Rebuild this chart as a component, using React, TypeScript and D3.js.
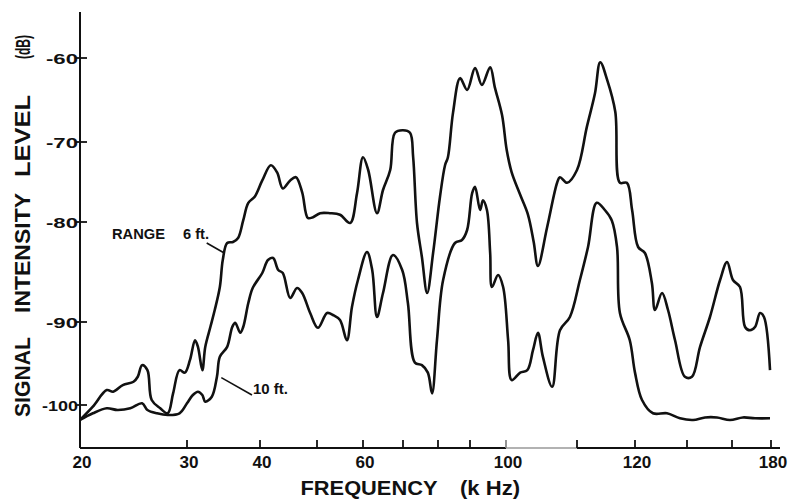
import { useEffect, useRef } from "react";
import * as d3 from "d3";

// frequency axis (kHz) and level axis (dB)
const xTickValues = [20, 30, 40, 50, 60, 70, 80, 90, 100, 110, 120, 140, 160, 180];
const xTickLabels = ["20", "30", "40", "", "60", "", "", "", "100", "", "120", "", "", "180"];
const yTickValues = [-100, -90, -80, -70, -60];
const yTickLabels = ["-100", "-90", "-80", "-70", "-60"];

// RANGE 6 ft.
const range6Freq = [
  20.0, 21.2, 22.5, 23.1, 24.0, 25.0, 25.4, 25.8, 26.3, 26.7, 27.5, 28.2, 28.7, 29.3, 29.8,
  30.4, 31.1, 31.5, 32.1, 32.5, 33.2, 33.8, 34.5, 34.9, 35.5, 36.3, 37.0, 37.7, 38.4, 39.3,
  40.4, 41.9, 43.0, 44.0, 45.3, 46.3, 47.4, 48.4, 49.3, 50.7, 52.8, 55.0, 57.2, 58.7, 60.0,
  61.3, 63.5, 65.0, 66.8, 68.0, 70.0, 72.0, 72.9, 74.0, 75.4, 76.9, 78.6, 80.6, 82.2, 83.1,
  84.7, 86.9, 89.1, 91.4, 93.3, 95.6, 96.9, 98.9, 100.1, 100.8, 102.0, 103.1, 103.9, 104.5,
  105.8, 107.2, 107.6, 108.6, 110.0, 111.7, 113.1, 114.0, 115.2, 116.6, 117.4, 118.6, 119.5,
  121.2, 123.8, 126.5, 127.7, 130.4, 132.7, 135.4, 139.2, 142.2, 145.8, 150.2, 154.7, 157.8,
  160.5, 164.1, 166.7, 169.2, 171.8, 174.4, 176.4, 179.5,
];
const range6Level = [
  -101.8, -100.2, -98.2, -98.4, -97.6, -97.2, -96.6, -95.2, -95.8, -99.4, -100.4, -101.0, -98.6, -95.8, -96.1,
  -94.6, -92.2, -93.0, -95.8, -93.0, -90.6, -88.8, -86.5, -83.8, -82.1, -82.0, -81.6, -79.8, -77.6, -76.8,
  -74.8, -72.9, -73.8, -75.8, -74.8, -74.4, -76.3, -79.5, -79.4, -78.9, -78.9, -79.1, -80.1, -76.4, -71.9,
  -73.5, -78.9, -76.0, -73.5, -68.9, -68.6, -68.9, -71.9, -80.1, -83.5, -87.1, -83.1, -76.9, -72.9, -71.9,
  -66.5, -62.4, -63.8, -61.2, -63.2, -61.1, -63.5, -66.8, -71.0, -73.8, -76.6, -79.1, -82.0, -84.4,
  -80.5, -75.1, -74.4, -75.1, -73.5, -68.2, -64.2, -60.5, -62.6, -66.4, -75.1, -75.1, -78.5,
  -82.5, -83.1, -86.1, -88.8, -87.1, -88.8, -92.2, -96.6, -96.6, -93.0, -89.5, -85.8, -84.0,
  -85.8, -86.5, -90.6, -91.0, -90.6, -89.1, -89.5, -95.8,
];

// 10 ft.
const range10Freq = [
  20.0, 21.2, 22.5, 23.5, 24.7, 25.8, 26.3, 27.2, 28.2, 29.3, 30.0, 30.8, 31.5, 32.1, 32.5,
  33.4, 34.1, 34.5, 35.5, 36.2, 36.6, 37.3, 37.7, 38.4, 39.0, 40.4, 41.4, 42.3, 43.2, 44.0,
  45.3, 46.5, 47.4, 48.8, 50.2, 52.2, 53.5, 55.0, 56.5, 57.6, 58.9, 61.0, 62.3, 63.5, 65.0,
  67.5, 69.8, 71.4, 73.4, 75.4, 77.1, 78.3, 79.7, 81.6, 85.3, 87.5, 89.1, 90.6, 91.4, 92.8,
  93.6, 94.7, 95.6, 96.1, 97.8, 99.2, 100.3, 100.8, 102.0, 103.0, 103.8, 104.5, 105.2, 106.5,
  107.6, 109.0, 110.5, 111.9, 113.4, 114.8, 116.0, 116.9, 117.4, 119.1, 120.0, 122.7, 126.9,
  132.3, 137.3, 142.7, 148.0, 153.3, 159.1, 165.6, 171.8, 179.5,
];
const range10Level = [
  -101.8, -101.0, -100.4, -100.6, -100.4, -99.8, -100.6, -101.0, -101.2, -101.0, -99.8, -98.8, -98.4, -98.8, -99.6,
  -99.0, -96.6, -94.2, -93.0, -90.6, -90.1, -91.3, -90.6, -88.1, -86.6, -85.1, -83.8, -83.6, -84.8, -85.1,
  -87.6, -86.6, -87.1, -89.1, -90.7, -89.1, -89.3, -89.8, -92.2, -88.5, -85.8, -83.0, -84.8, -89.5, -87.1,
  -83.3, -84.8, -88.1, -94.9, -95.2, -96.1, -98.6, -92.2, -85.8, -82.1, -81.8, -80.8, -76.4, -75.6, -78.5,
  -77.3, -78.5, -83.1, -86.5, -85.3, -86.5, -92.2, -97.0, -96.1, -95.8, -93.4, -91.3, -94.2, -97.8,
  -91.0, -89.5, -85.8, -82.5, -77.6, -78.5, -79.8, -82.5, -89.1, -92.2, -96.1, -99.4, -101.0,
  -101.0, -101.6, -101.8, -101.5, -101.5, -101.8, -101.5, -101.6, -101.6,
];

const width = 793;
const height = 502;
// hand drawn axes: tick marks are not evenly spaced
const xTickPx = [80, 187, 260, 317, 363, 403, 438, 470, 506, 577, 635, 687, 732, 771];
const yTickPx = [405, 322, 222, 142, 58];
const font = "'Liberation Sans', Arial, sans-serif";

const App = () => {
  const ref = useRef<SVGSVGElement>(null);

  useEffect(() => {
    const svg = d3.select(ref.current);
    svg.selectAll("*").remove();

    const x = d3.scaleLinear().domain(xTickValues).range(xTickPx);
    const y = d3.scaleLinear().domain(yTickValues).range(yTickPx);
    const axisY = y(-101.8) + 28;
    const axisX = x(20);

    svg.append("rect").attr("width", width).attr("height", height).attr("fill", "#fff");

    // axes
    svg.append("line")
      .attr("x1", axisX).attr("x2", axisX)
      .attr("y1", 12).attr("y2", axisY)
      .attr("stroke", "#111").attr("stroke-width", 2);
    svg.append("line")
      .attr("x1", axisX).attr("x2", x(100))
      .attr("y1", axisY).attr("y2", axisY)
      .attr("stroke", "#111").attr("stroke-width", 2);
    svg.append("line")
      .attr("x1", x(100)).attr("x2", x(110))
      .attr("y1", axisY).attr("y2", axisY)
      .attr("stroke", "#999").attr("stroke-width", 1.5);
    svg.append("line")
      .attr("x1", x(110)).attr("x2", x(180) + 9)
      .attr("y1", axisY).attr("y2", axisY)
      .attr("stroke", "#111").attr("stroke-width", 2);

    xTickValues.slice(1).forEach((v) => {
      svg.append("line")
        .attr("x1", x(v)).attr("x2", x(v))
        .attr("y1", axisY - 8).attr("y2", axisY)
        .attr("stroke", v === 100 ? "#888" : "#111")
        .attr("stroke-width", 1.8);
    });
    xTickValues.forEach((v, i) => {
      const t = xTickLabels[i];
      if (!t) return;
      svg.append("text")
        .attr("x", x(v) + 2).attr("y", axisY + 20)
        .attr("text-anchor", "middle")
        .attr("font-family", font).attr("font-weight", 700).attr("font-size", 16)
        .attr("textLength", t.length * 9.5)
        .attr("lengthAdjust", "spacingAndGlyphs")
        .attr("fill", "#111")
        .text(t);
    });

    yTickValues.forEach((v, i) => {
      svg.append("line")
        .attr("x1", axisX - 5).attr("x2", axisX + 7)
        .attr("y1", y(v)).attr("y2", y(v))
        .attr("stroke", "#111").attr("stroke-width", 1.8);
      const t = yTickLabels[i];
      svg.append("text")
        .attr("x", axisX - 2).attr("y", y(v) + 6)
        .attr("text-anchor", "end")
        .attr("font-family", font).attr("font-weight", 700).attr("font-size", 15)
        .attr("textLength", t.length === 4 ? 36 : 32)
        .attr("lengthAdjust", "spacingAndGlyphs")
        .attr("fill", "#111")
        .text(t);
    });

    // axis titles
    const title = (t: string, tx: number, ty: number, len: number, size: number, rot = false) => {
      svg.append("text")
        .attr("transform", `translate(${tx},${ty})` + (rot ? " rotate(-90)" : ""))
        .attr("text-anchor", "middle")
        .attr("font-family", font).attr("font-weight", 700).attr("font-size", size)
        .attr("textLength", len)
        .attr("lengthAdjust", "spacingAndGlyphs")
        .attr("fill", "#111")
        .text(t);
    };
    title("FREQUENCY", 369, 495, 137, 21);
    title("(k Hz)", 490, 495, 60, 20);
    title("SIGNAL", 30, 377, 80, 22, true);
    title("INTENSITY", 30, 253, 120, 22, true);
    title("LEVEL", 30, 136, 82, 22, true);
    title("(dB)", 30, 47, 24, 20, true);

    // curves
    const line = d3.line<[number, number]>()
      .x((d) => x(d[0]))
      .y((d) => y(d[1]))
      .curve(d3.curveCatmullRom.alpha(0.5));

    const series = [
      d3.zip(range6Freq, range6Level) as [number, number][],
      d3.zip(range10Freq, range10Level) as [number, number][],
    ];
    series.forEach((s) => {
      svg.append("path")
        .attr("d", line(s))
        .attr("fill", "none")
        .attr("stroke", "#111")
        .attr("stroke-width", 2.6)
        .attr("stroke-linejoin", "round");
    });

    // labels with leaders
    const label = (t: string, tx: number, ty: number, len: number) => {
      svg.append("text")
        .attr("x", tx).attr("y", ty)
        .attr("font-family", font).attr("font-weight", 700).attr("font-size", 14)
        .attr("textLength", len)
        .attr("lengthAdjust", "spacingAndGlyphs")
        .attr("fill", "#111")
        .text(t);
    };
    label("RANGE", 112, 239, 53);
    label("6 ft.", 183, 239, 26);
    label("10 ft.", 253, 394, 35);

    const leader = (f1: number, l1: number, f2: number, l2: number) => {
      svg.append("line")
        .attr("x1", x(f1)).attr("y1", y(l1))
        .attr("x2", x(f2)).attr("y2", y(l2))
        .attr("stroke", "#111").attr("stroke-width", 1.6);
    };
    leader(32.7, -82.1, 35.1, -83.1);
    leader(34.7, -96.7, 38.9, -98.8);
  }, []);

  return (
    <svg
      ref={ref}
      width={width}
      height={height}
      style={{ position: "absolute", left: 0, top: 0 }}
    />
  );
};

export default App;
